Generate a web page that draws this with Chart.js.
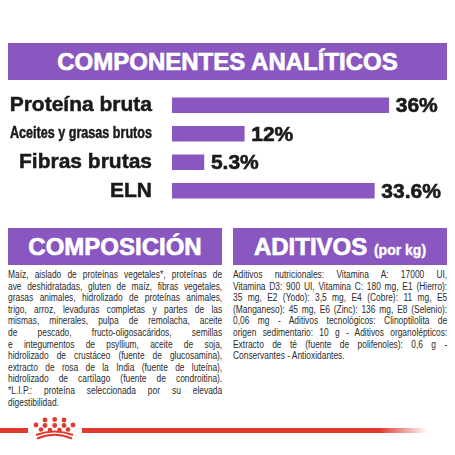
<!DOCTYPE html>
<html>
<head>
<meta charset="utf-8">
<script src="https://cdn.jsdelivr.net/npm/chart.js@4.4.0/dist/chart.umd.min.js"></script>
<style>
  body { margin: 0; background: #fff; }
  #pagina { position: relative; width: 455px; height: 455px; overflow: hidden; font-family: "Liberation Sans", Arial, sans-serif; }
  .cabecera { position: absolute; background: #8957bf; color: #fff; font-weight: bold; text-align: center; height: 37px; line-height: 38px; font-size: 24px; -webkit-text-stroke: 0.7px #fff; }
  .cabecera small { font-size: 14px; -webkit-text-stroke: 0.4px #fff; }
  /* fara font ingust instalat: textul e comprimat pe orizontala */
  .texto { position: absolute; top: 269px; width: 255px; transform: scaleX(0.84); transform-origin: 0 0; font-size: 10px; line-height: 11.6px; color: #2b2b2b; }
  .texto div { text-align: justify; text-align-last: justify; }
  .texto div.fin { text-align-last: left; }
  #grafico { position: absolute; left: 0; top: 88px; width: 455px; height: 122px; }
  svg { position: absolute; left: 0; top: 410px; }
</style>
</head>
<body>
<div id="pagina">
  <div class="cabecera" style="left:8px; top:43px; width:439px;">COMPONENTES ANALÍTICOS</div>

  <div id="grafico"><canvas id="myChartAnalitico"></canvas></div>

  <div class="cabecera" style="left:8px; top:228px; width:214px;">COMPOSICIÓN</div>
  <div class="cabecera" style="left:233px; top:228px; width:214px;">ADITIVOS <small>(por kg)</small></div>

  <div class="texto" style="left:8px;">
    <div>Maíz, aislado de proteínas vegetales*, proteínas de</div>
    <div>ave deshidratadas, gluten de maíz, fibras vegetales,</div>
    <div>grasas animales, hidrolizado de proteínas animales,</div>
    <div>trigo, arroz, levaduras completas y partes de las</div>
    <div>mismas, minerales, pulpa de remolacha, aceite</div>
    <div>de pescado, fructo-oligosacáridos, semillas</div>
    <div>e integumentos de psyllium, aceite de soja,</div>
    <div>hidrolizado de crustáceo (fuente de glucosamina),</div>
    <div>extracto de rosa de la India (fuente de luteína),</div>
    <div>hidrolizado de cartílago (fuente de condroitina).</div>
    <div>*L.I.P.: proteína seleccionada por su elevada</div>
    <div class="fin">digestibilidad.</div>
  </div>

  <div class="texto" style="left:233px;">
    <div>Aditivos nutricionales: Vitamina A: 17000 UI,</div>
    <div>Vitamina D3: 900 UI, Vitamina C: 180 mg, E1 (Hierro):</div>
    <div>35 mg, E2 (Yodo): 3,5 mg, E4 (Cobre): 11 mg, E5</div>
    <div>(Manganeso): 45 mg, E6 (Zinc): 136 mg, E8 (Selenio):</div>
    <div>0,06 mg - Aditivos tecnológicos: Clinoptilolita de</div>
    <div>origen sedimentario: 10 g - Aditivos organolépticos:</div>
    <div>Extracto de té (fuente de polifenoles): 0,6 g -</div>
    <div class="fin">Conservantes - Antioxidantes.</div>
  </div>

  <svg width="455" height="45" viewBox="0 410 455 45">
    <defs>
      <linearGradient id="desvanecer" x1="82" y1="0" x2="428" y2="0" gradientUnits="userSpaceOnUse">
        <stop offset="0" stop-color="#e03a2f"/>
        <stop offset="0.86" stop-color="#e03a2f"/>
        <stop offset="1" stop-color="#e03a2f" stop-opacity="0"/>
      </linearGradient>
    </defs>
    <rect x="0" y="428" width="28" height="5" fill="#e03a2f"/>
    <rect x="82" y="428" width="346" height="5" fill="url(#desvanecer)"/>
    <g fill="#e03a2f">
      <circle cx="45" cy="420" r="2.4"/><circle cx="54.7" cy="419.5" r="2.4"/><circle cx="64" cy="420" r="2.4"/>
      <circle cx="36" cy="425" r="2.4"/><circle cx="45" cy="425.5" r="2.4"/><circle cx="54.7" cy="425.5" r="2.4"/><circle cx="64" cy="425.5" r="2.4"/><circle cx="73" cy="425" r="2.4"/>
      <circle cx="41" cy="429.5" r="2.3"/><circle cx="50" cy="430" r="2.3"/><circle cx="59.5" cy="430" r="2.3"/><circle cx="68" cy="429.5" r="2.3"/>
    </g>
    <path d="M36 435 Q54.5 428 73 435" stroke="#e03a2f" stroke-width="2.2" fill="none"/>
    <path d="M37 438.5 Q54.5 431 72 438.5" stroke="#e03a2f" stroke-width="2.2" fill="none"/>
  </svg>
</div>

<script>
// Componentes analiticos (%)
var componentes = ["Proteína bruta", "Aceites y grasas brutos", "Fibras brutas", "ELN"];
var procentaje = [36, 12, 5.3, 33.6];
var etiquetas_valor = ["36%", "12%", "5.3%", "33.6%"];

var morado = '#8957bf';

// eticheta cu procentul dupa fiecare bara
var pluginValori = {
    id: 'valori',
    beforeDraw: function (chart) {
        // al doilea rand e scris ingust in original -> il comprimam la 142px
        var items = chart.scales.y.getLabelItems();
        if (items[1]) items[1].options.maxWidth = 142;
    },
    afterDatasetsDraw: function (chart) {
        var ctx = chart.ctx;
        var meta = chart.getDatasetMeta(0);
        ctx.save();
        ctx.font = 'bold 21px "Liberation Sans", Arial, sans-serif';
        ctx.fillStyle = '#1a1a1a';
        ctx.strokeStyle = '#1a1a1a';
        ctx.lineWidth = 0.6;
        ctx.textAlign = 'left';
        ctx.textBaseline = 'middle';
        meta.data.forEach(function (bar, i) {
            ctx.fillText(etiquetas_valor[i], bar.x + 7, bar.y + 1);
            ctx.strokeText(etiquetas_valor[i], bar.x + 7, bar.y + 1);
        });
        ctx.restore();
    }
};

var ctx = document.getElementById('myChartAnalitico').getContext('2d');
new Chart(ctx, {
    type: 'bar',
    data: {
        labels: componentes,
        datasets: [{
            data: procentaje,
            backgroundColor: morado,
            borderWidth: 0,
            barThickness: 15
        }]
    },
    options: {
        indexAxis: 'y',
        responsive: true,
        maintainAspectRatio: false,
        animation: false,
        layout: { padding: { top: 3, bottom: 5, left: 0, right: 0 } },
        plugins: {
            legend: { display: false },
            tooltip: { enabled: false }
        },
        scales: {
            x: {
                display: false,
                min: 0,
                max: 47
            },
            y: {
                afterFit: function (scale) {
                    scale.width = 172;
                    scale.paddingTop = 0; // altfel padding-ul etichetelor micsoreaza zona
                    scale.paddingBottom = 0;
                },
                grid: { display: false, drawTicks: false },
                border: { display: false },
                ticks: {
                    padding: 20,
                    color: '#1a1a1a',
                    textStrokeColor: '#1a1a1a',
                    textStrokeWidth: 0.5,
                    font: function (context) {
                        if (context.index === 1) {
                            return { family: '"Liberation Sans", Arial, sans-serif', size: 17, weight: 'bold' };
                        }
                        return { family: '"Liberation Sans", Arial, sans-serif', size: 21, weight: 'bold' };
                    }
                }
            }
        }
    },
    plugins: [pluginValori]
});
</script>
</body>
</html>
